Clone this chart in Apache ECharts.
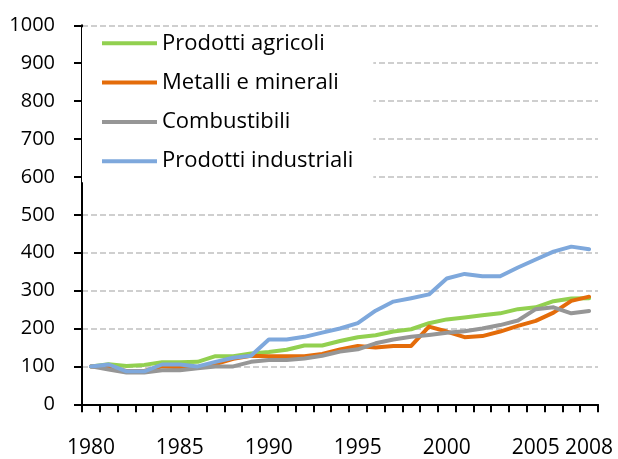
<!DOCTYPE html>
<html>
<head>
<meta charset="utf-8">
<script src="https://cdn.jsdelivr.net/npm/echarts@6/dist/echarts.min.js"></script>
<style>html,body{margin:0;padding:0;background:#fff}#c{width:618px;height:459px}</style>
</head>
<body>
<div id="c"></div>
<script>
const years = ['1980','1981','1982','1983','1984','1985','1986','1987','1988','1989','1990','1991','1992','1993','1994','1995','1996','1997','1998','1999','2000','2001','2002','2003','2004','2005','2006','2007','2008'];
const shownYears = ['1980','1985','1990','1995','2000','2005','2008'];
const agricoli = [100,106,101,104,111,111,112,127,127,134,138,144,155,155,167,177,182,192,198,214,224,229,235,240,251,256,272,279,280];
const metalli = [100,97,88,88,100,98,96,106,120,128,127,127,127,133,145,154,150,154,154,205,192,177,180,192,207,220,242,273,284];
const combustibili = [100,92,84,84,90,90,95,100,100,112,117,117,121,128,139,145,161,171,178,183,189,193,200,209,221,251,256,240,246];
const industriali = [100,105,87,87,105,105,100,112,123,128,171,171,178,189,200,214,247,271,280,290,332,344,338,338,361,382,403,416,409];
const seriesNames = ['Prodotti agricoli','Metalli e minerali','Combustibili','Prodotti industriali'];
const colors = ['#92D050','#E46C0A','#969696','#7EA8DC'];
const yTicks = {min:0, max:1000, step:100};

const font = 'Open Sans';
const chart = echarts.init(document.getElementById('c'), null, {renderer:'canvas'});
const data = [agricoli, metalli, combustibili, industriali];
chart.setOption({
  animation:false,
  backgroundColor:'#fff',
  color: colors,
  grid:{left:82, right:20, top:25.3, bottom:54.7, containLabel:false},
  legend:{
    orient:'vertical', left:82, top:27.3,
    padding:[5,20,10,20],
    backgroundColor:'#fff',
    itemWidth:55, itemHeight:4, itemGap:17.3,
    icon:'rect',
    data: seriesNames,
    textStyle:{fontFamily:font, fontSize:22, color:'#000', lineHeight:22}
  },
  xAxis:{
    type:'category', data: years, boundaryGap:true,
    axisLine:{lineStyle:{color:'#000', width:2}},
    axisTick:{show:true, interval:0, length:8, lineStyle:{color:'#000', width:2}},
    axisLabel:{
      interval:0, margin:33, color:'#000', fontFamily:font, fontSize:21,
      formatter:(v)=> shownYears.includes(v) ? v : ''
    },
    splitLine:{show:false}
  },
  yAxis:{
    type:'value', min:yTicks.min, max:yTicks.max, interval:yTicks.step,
    axisLine:{show:true, lineStyle:{color:'#000', width:2}},
    axisTick:{show:true, length:8, lineStyle:{color:'#000', width:2}},
    axisLabel:{margin:27, color:'#000', fontFamily:font, fontSize:20, formatter:(v)=>String(v)},
    splitLine:{show:true, lineStyle:{color:'#C0C0C0', width:1.5, type:[6,3]}}
  },
  series: seriesNames.map((n,i)=>({
    name:n, type:'line', data:data[i], symbol:'none', showSymbol:false,
    lineStyle:{width:4, color:colors[i], cap:'round', join:'round'},
    itemStyle:{color:colors[i]}
  }))
});
</script>
</body>
</html>
